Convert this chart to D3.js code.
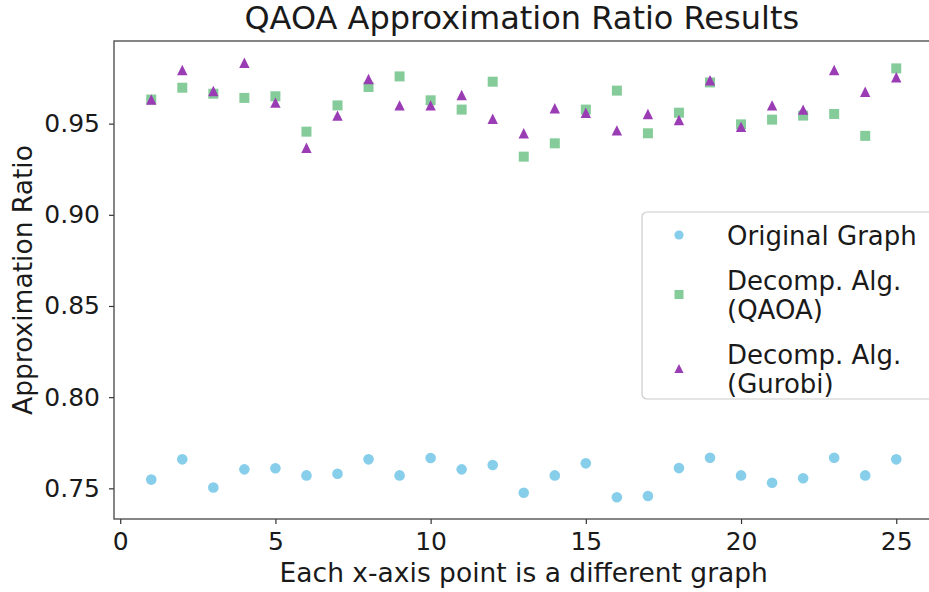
<!DOCTYPE html>
<html>
<head>
<meta charset="utf-8">
<script src="https://cdn.jsdelivr.net/npm/d3@7"></script>
<style>
  body { margin: 0; background: #fff; }
  text { font-family: "DejaVu Sans", sans-serif; fill: #1a1a1a; }
</style>
</head>
<body>
<div id="chart"></div>
<script>
// graph index on the x axis
const graphs = d3.range(1, 26);

const originalGraph = [
  0.7548, 0.7659, 0.7505, 0.7604, 0.7610, 0.7571, 0.7580, 0.7659, 0.7571, 0.7666,
  0.7604, 0.7628, 0.7476, 0.7571, 0.7637, 0.7451, 0.7458, 0.7611, 0.7668, 0.7571,
  0.7531, 0.7555, 0.7668, 0.7571, 0.7659
];

const decompQaoa = [
  0.9632, 0.9697, 0.9664, 0.9641, 0.9650, 0.9456, 0.9600, 0.9701, 0.9759, 0.9628,
  0.9577, 0.9730, 0.9319, 0.9392, 0.9577, 0.9681, 0.9447, 0.9560, 0.9726, 0.9496,
  0.9522, 0.9544, 0.9553, 0.9433, 0.9803
];

const decompGurobi = [
  0.9632, 0.9794, 0.9679, 0.9834, 0.9615, 0.9368, 0.9544, 0.9745, 0.9600, 0.9600,
  0.9657, 0.9527, 0.9447, 0.9584, 0.9560, 0.9463, 0.9553, 0.9520, 0.9738, 0.9482,
  0.9600, 0.9577, 0.9794, 0.9675, 0.9754
];

const xTicks = [0, 5, 10, 15, 20, 25];
const yTicks = [0.75, 0.80, 0.85, 0.90, 0.95];

const legendLabels = [
  ['Original Graph'],
  ['Decomp. Alg.', '(QAOA)'],
  ['Decomp. Alg.', '(Gurobi)']
];

const colors = ['#87ceeb', '#86cc9a', '#9a3db5'];

const width = 929;
const height = 592;
const margin = { top: 41, right: -4.5, bottom: 73, left: 114 };

const svg = d3.select('#chart').append('svg')
  .attr('width', width)
  .attr('height', height);

// matplotlib-style 5% padding around data
const pad = (lo, hi) => { const m = (hi - lo) * 0.05; return [lo - m, hi + m]; };
const allY = originalGraph.concat(decompQaoa, decompGurobi);

const x = d3.scaleLinear()
  .domain(pad(d3.min(graphs), d3.max(graphs)))
  .range([margin.left, width - margin.right]);

const y = d3.scaleLinear()
  .domain(pad(d3.min(allY), d3.max(allY)))
  .range([height - margin.bottom, margin.top]);

// axes
const xAxis = svg.append('g')
  .attr('transform', `translate(0,${height - margin.bottom})`)
  .call(d3.axisBottom(x).tickValues(xTicks).tickFormat(d3.format('d')).tickSize(5).tickPadding(8).tickSizeOuter(0));

const yAxis = svg.append('g')
  .attr('transform', `translate(${margin.left},0)`)
  .call(d3.axisLeft(y).tickValues(yTicks).tickFormat(d3.format('.2f')).tickSize(5).tickPadding(9).tickSizeOuter(0));

[xAxis, yAxis].forEach(g => {
  g.select('.domain').remove();
  g.selectAll('.tick line').attr('stroke', '#333').attr('stroke-width', 1.2);
  g.selectAll('.tick text').style('font-size', '25px').style('font-family', '"DejaVu Sans", sans-serif').attr('fill', '#1a1a1a');
});

// spines
svg.append('rect')
  .attr('x', margin.left)
  .attr('y', margin.top)
  .attr('width', width - margin.right - margin.left)
  .attr('height', height - margin.bottom - margin.top)
  .attr('fill', 'none')
  .attr('stroke', '#444')
  .attr('stroke-width', 1.3);

// markers
svg.append('g').selectAll('circle')
  .data(graphs)
  .join('circle')
  .attr('cx', d => x(d))
  .attr('cy', (d, i) => y(originalGraph[i]))
  .attr('r', 5.3)
  .attr('fill', colors[0]);

svg.append('g').selectAll('rect')
  .data(graphs)
  .join('rect')
  .attr('x', d => x(d) - 5)
  .attr('y', (d, i) => y(decompQaoa[i]) - 5)
  .attr('width', 10)
  .attr('height', 10)
  .attr('fill', colors[1]);

const tri = 'M0,-5.2L-5.2,5.2L5.2,5.2Z';
svg.append('g').selectAll('path')
  .data(graphs)
  .join('path')
  .attr('transform', (d, i) => `translate(${x(d)},${y(decompGurobi[i])})`)
  .attr('d', tri)
  .attr('fill', colors[2]);

// title and labels
svg.append('text')
  .attr('x', (margin.left + width - margin.right) / 2 - 2)
  .attr('y', 29)
  .attr('text-anchor', 'middle')
  .style('font-size', '32px')
  .text('QAOA Approximation Ratio Results');

svg.append('text')
  .attr('x', (margin.left + width - margin.right) / 2)
  .attr('y', 582)
  .attr('text-anchor', 'middle')
  .style('font-size', '26.5px')
  .text('Each x-axis point is a different graph');

svg.append('text')
  .attr('transform', `translate(32,${(margin.top + height - margin.bottom) / 2}) rotate(-90)`)
  .attr('text-anchor', 'middle')
  .style('font-size', '26.5px')
  .text('Approximation Ratio');

// legend
const legend = svg.append('g');
legend.append('rect')
  .attr('x', 642)
  .attr('y', 212)
  .attr('width', 300)
  .attr('height', 187)
  .attr('rx', 5)
  .attr('fill', 'rgba(255,255,255,0.8)')
  .attr('stroke', '#ccc')
  .attr('stroke-width', 1.2);

const lineH = 29;
const gap = 16;
let cy = 235;
legendLabels.forEach((lines, i) => {
  const mid = cy + (lines.length - 1) * lineH / 2;
  const mx = 679;
  if (i === 0) {
    legend.append('circle').attr('cx', mx).attr('cy', mid).attr('r', 4.6).attr('fill', colors[0]);
  } else if (i === 1) {
    legend.append('rect').attr('x', mx - 4.5).attr('y', mid - 4.5).attr('width', 9).attr('height', 9).attr('fill', colors[1]);
  } else {
    legend.append('path').attr('transform', `translate(${mx},${mid})`).attr('d', 'M0,-4.6L-4.6,4.6L4.6,4.6Z').attr('fill', colors[2]);
  }
  lines.forEach((t, j) => {
    legend.append('text')
      .attr('x', 727)
      .attr('y', cy + j * lineH + 9.5)
      .style('font-size', '26px')
      .text(t);
  });
  cy += lines.length * lineH + gap;
});
</script>
</body>
</html>
